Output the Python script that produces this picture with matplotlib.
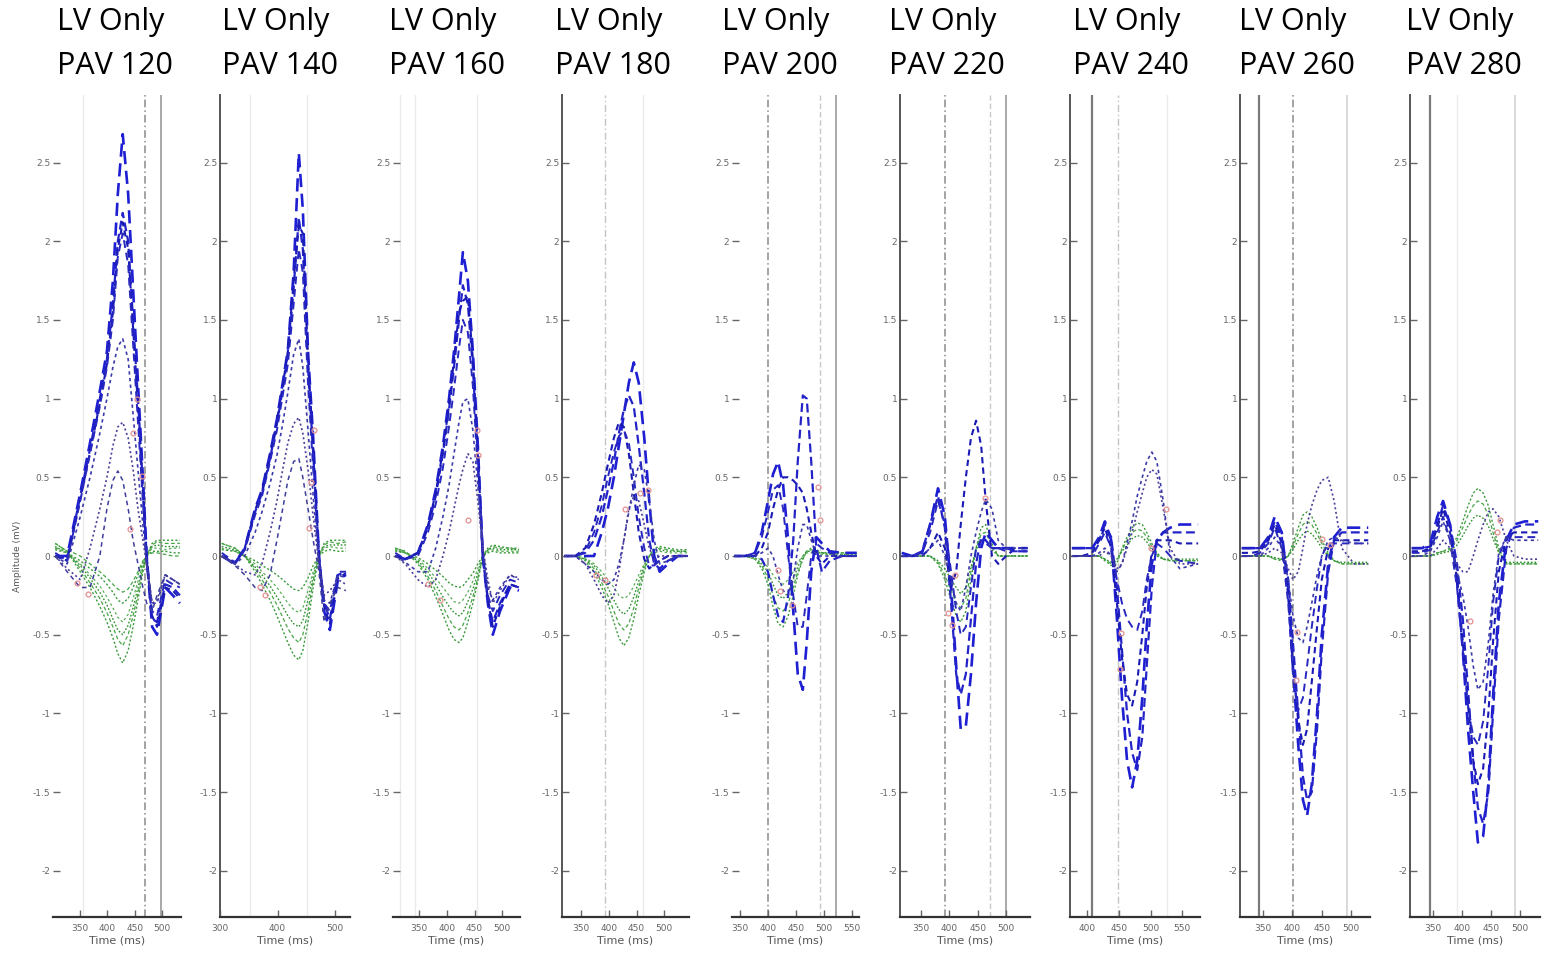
import matplotlib
matplotlib.use("Agg")
import matplotlib.pyplot as plt

W, H = 1546, 956

pav = [120, 140, 160, 180, 200, 220, 240, 260, 280]

# ---- PAV 120 ----
t_120 = [304, 326, 350, 368, 386, 399, 410, 419, 428, 438, 447, 456, 465, 472, 482, 491, 506, 520, 533]
blue_120 = [
    [0.0, 0.0, 0.4, 0.72, 1.05, 1.3, 1.75, 2.3, 2.68, 2.3, 1.7, 1.1, 0.5, 0.0, -0.45, -0.5, -0.2, -0.25, -0.3],
    [0.0, -0.02, 0.38, 0.68, 1.0, 1.25, 1.6, 2.0, 2.18, 2.0, 1.5, 1.0, 0.45, 0.0, -0.4, -0.42, -0.18, -0.2, -0.25],
    [0.0, -0.03, 0.36, 0.66, 0.97, 1.22, 1.55, 1.95, 2.12, 1.95, 1.45, 0.95, 0.4, -0.02, -0.38, -0.45, -0.2, -0.22, -0.27],
    [0.02, -0.03, 0.35, 0.65, 0.95, 1.2, 1.5, 1.9, 2.05, 1.85, 1.35, 0.85, 0.35, -0.05, -0.35, -0.38, -0.15, -0.18, -0.2],
    [0.0, -0.05, 0.25, 0.5, 0.78, 1.0, 1.2, 1.33, 1.38, 1.25, 0.9, 0.55, 0.2, -0.05, -0.3, -0.3, -0.12, -0.15, -0.18],
    [0.0, -0.08, -0.15, 0.05, 0.3, 0.5, 0.7, 0.82, 0.85, 0.75, 0.55, 0.3, 0.1, -0.05, -0.3, -0.28, -0.12, -0.15, -0.18],
    [0.0, -0.1, -0.2, -0.2, 0.0, 0.3, 0.48, 0.54, 0.48, 0.3, 0.1, -0.05, -0.2, -0.3, -0.35, -0.25, -0.12, -0.15, -0.18],
]
green_120 = [
    [0.08, 0.03, -0.1, -0.2, -0.32, -0.42, -0.52, -0.62, -0.68, -0.6, -0.45, -0.28, -0.1, 0.0, 0.08, 0.1, 0.1, 0.1, 0.1],
    [0.08, 0.03, -0.08, -0.17, -0.27, -0.36, -0.45, -0.53, -0.57, -0.5, -0.38, -0.24, -0.08, 0.0, 0.07, 0.09, 0.08, 0.08, 0.08],
    [0.06, 0.02, -0.06, -0.14, -0.23, -0.31, -0.4, -0.47, -0.5, -0.44, -0.33, -0.2, -0.07, 0.0, 0.06, 0.07, 0.06, 0.06, 0.06],
    [0.05, 0.02, -0.05, -0.12, -0.19, -0.26, -0.33, -0.39, -0.42, -0.37, -0.27, -0.16, -0.05, 0.0, 0.05, 0.05, 0.04, 0.05, 0.05],
    [0.04, 0.02, -0.03, -0.08, -0.13, -0.18, -0.23, -0.28, -0.3, -0.27, -0.2, -0.12, -0.04, 0.0, 0.03, 0.03, 0.03, 0.02, 0.02],
    [0.05, 0.04, 0.0, -0.05, -0.1, -0.14, -0.18, -0.21, -0.23, -0.21, -0.16, -0.1, -0.03, 0.0, 0.02, 0.02, 0.01, 0.0, 0.0],
]
mark_t_120 = [454, 447, 463, 441, 344, 364]
mark_a_120 = [1.0, 0.78, 0.51, 0.17, -0.17, -0.24]

# ---- PAV 140 ----
t_140 = [303, 326, 343, 361, 373, 387, 399, 409, 418, 428, 437, 444, 453, 462, 472, 481, 491, 505, 519]
blue_140 = [
    [0.0, -0.05, 0.05, 0.3, 0.42, 0.65, 0.87, 1.1, 1.31, 1.8, 2.56, 2.2, 1.3, 0.75, 0.0, -0.35, -0.47, -0.15, -0.12],
    [0.0, -0.05, 0.04, 0.28, 0.4, 0.62, 0.84, 1.06, 1.28, 1.7, 2.15, 1.95, 1.2, 0.65, 0.0, -0.3, -0.4, -0.12, -0.1],
    [0.0, -0.04, 0.05, 0.29, 0.41, 0.64, 0.86, 1.08, 1.3, 1.75, 2.1, 2.05, 1.25, 0.7, 0.0, -0.32, -0.43, -0.14, -0.11],
    [0.02, -0.04, 0.04, 0.26, 0.38, 0.6, 0.8, 1.02, 1.22, 1.6, 1.95, 1.8, 1.1, 0.55, -0.02, -0.3, -0.35, -0.1, -0.1],
    [0.0, -0.05, 0.0, 0.15, 0.28, 0.46, 0.64, 0.84, 1.04, 1.28, 1.38, 1.2, 0.8, 0.38, -0.05, -0.28, -0.3, -0.12, -0.14],
    [0.0, -0.05, -0.1, -0.12, -0.05, 0.15, 0.35, 0.55, 0.72, 0.84, 0.88, 0.78, 0.55, 0.25, -0.05, -0.25, -0.22, -0.15, -0.18],
    [0.0, -0.06, -0.12, -0.2, -0.22, -0.12, 0.1, 0.3, 0.48, 0.6, 0.62, 0.5, 0.3, 0.1, -0.1, -0.42, -0.3, -0.2, -0.22],
]
green_140 = [
    [0.08, 0.05, 0.0, -0.1, -0.18, -0.28, -0.38, -0.47, -0.55, -0.63, -0.66, -0.6, -0.42, -0.2, 0.0, 0.08, 0.1, 0.1, 0.1],
    [0.08, 0.05, 0.0, -0.08, -0.15, -0.23, -0.31, -0.39, -0.46, -0.52, -0.55, -0.5, -0.35, -0.16, 0.0, 0.07, 0.09, 0.08, 0.09],
    [0.06, 0.04, 0.0, -0.07, -0.12, -0.19, -0.26, -0.32, -0.38, -0.43, -0.45, -0.41, -0.28, -0.13, 0.0, 0.06, 0.07, 0.07, 0.07],
    [0.05, 0.03, 0.0, -0.05, -0.1, -0.15, -0.2, -0.25, -0.3, -0.34, -0.36, -0.33, -0.22, -0.1, 0.0, 0.05, 0.06, 0.05, 0.05],
    [0.04, 0.03, 0.0, -0.03, -0.06, -0.09, -0.12, -0.15, -0.18, -0.21, -0.22, -0.2, -0.14, -0.06, 0.0, 0.03, 0.04, 0.03, 0.03],
]
mark_t_140 = [463, 458, 455, 370, 378]
mark_a_140 = [0.8, 0.47, 0.18, -0.2, -0.25]

# ---- PAV 160 ----
t_160 = [307, 325, 348, 366, 380, 393, 404, 413, 422, 429, 438, 447, 456, 465, 474, 483, 496, 514, 530]
blue_160 = [
    [0.0, -0.02, 0.02, 0.2, 0.42, 0.7, 1.0, 1.3, 1.65, 1.93, 1.75, 1.3, 0.7, 0.0, -0.3, -0.5, -0.35, -0.2, -0.22],
    [0.0, -0.02, 0.02, 0.18, 0.38, 0.65, 0.93, 1.2, 1.5, 1.72, 1.6, 1.2, 0.62, 0.0, -0.28, -0.42, -0.3, -0.18, -0.2],
    [0.0, -0.02, 0.02, 0.19, 0.4, 0.67, 0.96, 1.25, 1.55, 1.62, 1.65, 1.25, 0.66, 0.0, -0.28, -0.45, -0.32, -0.18, -0.2],
    [0.02, -0.02, 0.0, 0.15, 0.33, 0.56, 0.82, 1.06, 1.32, 1.5, 1.42, 1.08, 0.55, -0.02, -0.25, -0.35, -0.25, -0.15, -0.17],
    [0.0, -0.04, -0.1, -0.1, 0.05, 0.25, 0.45, 0.65, 0.85, 0.98, 1.0, 0.8, 0.45, 0.05, -0.2, -0.28, -0.2, -0.12, -0.15],
    [0.0, -0.05, -0.15, -0.2, -0.15, 0.0, 0.15, 0.3, 0.45, 0.55, 0.65, 0.6, 0.35, 0.05, -0.15, -0.3, -0.22, -0.12, -0.14],
]
green_160 = [
    [0.05, 0.03, -0.05, -0.15, -0.26, -0.37, -0.47, -0.53, -0.55, -0.52, -0.42, -0.3, -0.16, 0.0, 0.05, 0.07, 0.06, 0.05, 0.05],
    [0.05, 0.03, -0.04, -0.13, -0.22, -0.32, -0.4, -0.45, -0.47, -0.44, -0.36, -0.26, -0.14, 0.0, 0.04, 0.06, 0.05, 0.05, 0.04],
    [0.04, 0.02, -0.03, -0.1, -0.18, -0.26, -0.32, -0.36, -0.38, -0.36, -0.29, -0.21, -0.11, 0.0, 0.04, 0.05, 0.04, 0.04, 0.04],
    [0.04, 0.02, -0.02, -0.08, -0.14, -0.2, -0.25, -0.29, -0.3, -0.28, -0.23, -0.16, -0.08, 0.0, 0.03, 0.04, 0.03, 0.03, 0.03],
    [0.03, 0.02, -0.01, -0.05, -0.09, -0.13, -0.17, -0.19, -0.2, -0.19, -0.15, -0.11, -0.05, 0.0, 0.02, 0.03, 0.02, 0.02, 0.02],
]
mark_t_160 = [454, 456, 438, 366, 388]
mark_a_160 = [0.8, 0.64, 0.23, -0.18, -0.28]

# ---- PAV 180 ----
t_180 = [319, 339, 357, 373, 387, 398, 409, 418, 427, 436, 445, 454, 464, 473, 482, 492, 507, 525, 543]
blue_180 = [
    [0.0, 0.0, 0.0, 0.0, 0.15, 0.3, 0.5, 0.7, 0.9, 1.1, 1.23, 1.1, 0.75, 0.35, 0.0, -0.1, -0.05, 0.0, 0.0],
    [0.0, 0.0, 0.02, 0.1, 0.25, 0.42, 0.6, 0.78, 0.93, 1.02, 0.95, 0.7, 0.4, 0.1, -0.05, -0.08, -0.03, 0.0, 0.0],
    [0.0, 0.0, 0.05, 0.2, 0.4, 0.58, 0.75, 0.85, 0.82, 0.65, 0.4, 0.15, -0.02, -0.08, -0.05, -0.03, 0.0, 0.0, 0.0],
    [0.0, 0.0, 0.03, 0.15, 0.32, 0.5, 0.66, 0.76, 0.8, 0.72, 0.5, 0.25, 0.05, -0.06, -0.06, -0.03, 0.0, 0.0, 0.0],
    [0.0, 0.0, -0.05, -0.1, -0.15, -0.18, -0.15, -0.05, 0.1, 0.28, 0.45, 0.58, 0.55, 0.35, 0.1, -0.05, -0.03, 0.0, 0.0],
    [0.0, 0.0, -0.05, -0.15, -0.25, -0.3, -0.25, -0.1, 0.1, 0.3, 0.38, 0.35, 0.2, 0.05, -0.02, 0.0, 0.0, 0.0, 0.0],
]
green_180 = [
    [0.0, 0.0, -0.03, -0.1, -0.2, -0.3, -0.42, -0.52, -0.57, -0.52, -0.4, -0.25, -0.1, 0.0, 0.05, 0.06, 0.05, 0.04, 0.04],
    [0.0, 0.0, -0.02, -0.08, -0.17, -0.25, -0.35, -0.43, -0.47, -0.43, -0.33, -0.2, -0.08, 0.0, 0.04, 0.05, 0.04, 0.03, 0.03],
    [0.0, 0.0, -0.02, -0.06, -0.13, -0.2, -0.28, -0.34, -0.37, -0.34, -0.26, -0.16, -0.06, 0.0, 0.03, 0.04, 0.03, 0.03, 0.03],
    [0.0, 0.0, -0.01, -0.05, -0.1, -0.15, -0.2, -0.25, -0.27, -0.25, -0.19, -0.12, -0.05, 0.0, 0.02, 0.03, 0.02, 0.02, 0.02],
]
mark_t_180 = [471, 457, 429, 377, 393]
mark_a_180 = [0.42, 0.4, 0.3, -0.12, -0.15]

# ---- PAV 200 ----
t_200 = [340, 359, 377, 389, 400, 409, 418, 427, 436, 445, 453, 462, 469, 477, 486, 496, 510, 532, 558]
blue_200 = [
    [0.0, 0.0, 0.02, 0.15, 0.35, 0.52, 0.6, 0.45, 0.1, -0.35, -0.75, -0.85, -0.55, -0.1, 0.12, 0.08, 0.03, 0.02, 0.02],
    [0.0, 0.0, 0.0, -0.02, -0.1, -0.25, -0.38, -0.42, -0.25, 0.1, 0.6, 1.02, 1.0, 0.6, 0.05, -0.1, -0.03, 0.0, 0.0],
    [0.0, 0.0, 0.0, 0.05, 0.15, 0.3, 0.42, 0.5, 0.5, 0.48, 0.45, 0.4, 0.3, 0.15, 0.0, -0.05, 0.0, 0.0, 0.0],
    [0.0, 0.0, 0.02, 0.12, 0.28, 0.42, 0.45, 0.3, 0.0, -0.25, -0.45, -0.45, -0.25, 0.0, 0.08, 0.05, 0.02, 0.0, 0.0],
    [0.0, 0.0, 0.0, 0.02, 0.05, 0.0, -0.12, -0.22, -0.25, -0.15, 0.05, 0.2, 0.2, 0.1, 0.0, 0.0, 0.0, 0.0, 0.0],
]
green_200 = [
    [0.0, 0.0, -0.02, -0.08, -0.18, -0.32, -0.43, -0.45, -0.38, -0.25, -0.12, -0.02, 0.03, 0.05, 0.04, 0.02, 0.02, 0.02, 0.02],
    [0.0, 0.0, -0.02, -0.06, -0.14, -0.25, -0.33, -0.35, -0.3, -0.2, -0.1, -0.02, 0.03, 0.04, 0.03, 0.02, 0.02, 0.02, 0.02],
    [0.0, 0.0, -0.01, -0.05, -0.1, -0.18, -0.25, -0.27, -0.23, -0.15, -0.07, 0.0, 0.03, 0.03, 0.02, 0.02, 0.01, 0.01, 0.01],
    [0.0, 0.0, 0.0, -0.03, -0.07, -0.12, -0.16, -0.18, -0.15, -0.1, -0.04, 0.0, 0.02, 0.02, 0.02, 0.01, 0.01, 0.01, 0.01],
]
mark_t_200 = [489, 493, 418, 421, 443]
mark_a_200 = [0.44, 0.23, -0.09, -0.22, -0.31]

# ---- PAV 220 ----
t_220 = [316, 334, 352, 366, 380, 392, 403, 412, 420, 429, 438, 447, 456, 464, 475, 486, 500, 517, 538]
blue_220 = [
    [0.02, 0.0, 0.02, 0.2, 0.43, 0.25, -0.2, -0.7, -1.1, -1.08, -0.75, -0.3, 0.05, 0.15, 0.1, 0.05, 0.05, 0.05, 0.05],
    [0.0, 0.0, 0.03, 0.2, 0.38, 0.18, -0.3, -0.75, -0.88, -0.75, -0.4, -0.05, 0.12, 0.1, 0.05, 0.05, 0.05, 0.03, 0.03],
    [0.0, 0.0, 0.0, 0.05, 0.15, 0.05, -0.2, -0.1, 0.2, 0.5, 0.75, 0.86, 0.7, 0.35, 0.0, -0.05, 0.0, 0.05, 0.05],
    [0.0, 0.0, 0.02, 0.15, 0.35, 0.2, -0.1, -0.35, -0.5, -0.45, -0.2, 0.05, 0.1, 0.08, 0.05, 0.05, 0.03, 0.03, 0.03],
    [0.0, 0.0, 0.0, 0.05, 0.1, 0.0, -0.15, -0.3, -0.35, -0.2, 0.0, 0.15, 0.28, 0.36, 0.3, 0.1, 0.05, 0.05, 0.05],
]
green_220 = [
    [0.0, 0.0, 0.0, 0.0, -0.05, -0.15, -0.28, -0.38, -0.42, -0.35, -0.15, 0.05, 0.18, 0.2, 0.08, 0.0, 0.0, 0.0, 0.0],
    [0.0, 0.0, 0.0, 0.0, -0.04, -0.12, -0.22, -0.3, -0.33, -0.27, -0.1, 0.05, 0.14, 0.15, 0.06, 0.0, 0.0, 0.0, 0.0],
    [0.0, 0.0, 0.0, 0.0, -0.03, -0.08, -0.15, -0.2, -0.24, -0.2, -0.07, 0.04, 0.1, 0.1, 0.04, 0.0, 0.0, 0.0, 0.0],
]
mark_t_220 = [463, 398, 404, 410]
mark_a_220 = [0.37, -0.36, -0.44, -0.12]

# ---- PAV 240 ----
t_240 = [376, 392, 408, 419, 428, 438, 447, 455, 463, 471, 479, 487, 494, 502, 510, 520, 531, 546, 575]
blue_240 = [
    [0.05, 0.05, 0.05, 0.12, 0.22, 0.1, -0.4, -0.9, -1.3, -1.47, -1.3, -0.9, -0.45, -0.05, 0.1, 0.15, 0.18, 0.2, 0.2],
    [0.05, 0.05, 0.05, 0.1, 0.2, 0.12, -0.2, -0.6, -1.0, -1.25, -1.36, -1.15, -0.7, -0.2, 0.1, 0.15, 0.15, 0.15, 0.15],
    [0.0, 0.0, 0.02, 0.1, 0.18, 0.05, -0.3, -0.65, -0.88, -0.95, -0.8, -0.5, -0.2, 0.02, 0.1, 0.1, 0.1, 0.08, 0.08],
    [0.0, 0.0, 0.0, 0.08, 0.15, 0.05, -0.15, -0.3, -0.4, -0.45, -0.47, -0.35, -0.15, 0.0, 0.08, 0.05, 0.0, -0.03, -0.05],
    [0.0, 0.0, 0.0, 0.02, 0.05, 0.0, -0.1, -0.05, 0.08, 0.22, 0.38, 0.5, 0.6, 0.66, 0.6, 0.35, 0.0, -0.08, -0.05],
    [0.0, 0.0, 0.0, 0.0, 0.03, 0.0, -0.08, -0.05, 0.05, 0.15, 0.28, 0.4, 0.5, 0.55, 0.52, 0.3, 0.05, -0.05, -0.05],
]
green_240 = [
    [0.0, 0.0, 0.0, 0.0, -0.03, -0.06, -0.05, 0.05, 0.12, 0.18, 0.21, 0.2, 0.15, 0.08, 0.02, -0.02, -0.03, -0.03, -0.03],
    [0.0, 0.0, 0.0, 0.0, -0.02, -0.05, -0.03, 0.04, 0.1, 0.15, 0.17, 0.16, 0.12, 0.06, 0.01, -0.02, -0.03, -0.03, -0.03],
    [0.0, 0.0, 0.0, 0.0, -0.02, -0.04, -0.02, 0.03, 0.07, 0.11, 0.13, 0.12, 0.09, 0.04, 0.0, -0.02, -0.02, -0.02, -0.02],
]
mark_t_240 = [454, 452, 524, 500]
mark_a_240 = [-0.49, -0.72, 0.3, 0.05]

# ---- PAV 260 ----
t_260 = [314, 331, 345, 359, 370, 382, 393, 401, 410, 418, 425, 433, 442, 450, 461, 471, 484, 505, 529]
blue_260 = [
    [0.05, 0.05, 0.05, 0.12, 0.25, 0.15, -0.2, -0.7, -1.2, -1.55, -1.65, -1.45, -1.0, -0.5, -0.05, 0.12, 0.18, 0.18, 0.18],
    [0.05, 0.05, 0.05, 0.1, 0.22, 0.12, -0.15, -0.55, -1.0, -1.4, -1.55, -1.5, -1.1, -0.6, -0.1, 0.1, 0.15, 0.15, 0.15],
    [0.02, 0.02, 0.03, 0.1, 0.2, 0.08, -0.25, -0.7, -1.05, -1.2, -1.1, -0.8, -0.45, -0.15, 0.05, 0.1, 0.1, 0.1, 0.1],
    [0.0, 0.0, 0.02, 0.08, 0.18, 0.05, -0.3, -0.75, -0.98, -0.9, -0.7, -0.45, -0.2, 0.0, 0.08, 0.08, 0.08, 0.08, 0.08],
    [0.0, 0.0, 0.0, 0.05, 0.12, 0.05, -0.15, -0.38, -0.52, -0.55, -0.45, -0.3, -0.12, 0.0, 0.1, 0.12, 0.1, 0.08, 0.08],
    [0.0, 0.0, 0.0, 0.02, 0.05, 0.02, -0.08, -0.15, -0.1, 0.05, 0.2, 0.32, 0.42, 0.48, 0.5, 0.35, 0.05, -0.05, -0.05],
]
green_260 = [
    [0.0, 0.0, 0.0, 0.0, -0.02, -0.03, 0.0, 0.08, 0.18, 0.26, 0.28, 0.25, 0.18, 0.1, 0.02, -0.03, -0.05, -0.05, -0.05],
    [0.0, 0.0, 0.0, 0.0, -0.02, -0.02, 0.0, 0.06, 0.14, 0.2, 0.22, 0.2, 0.14, 0.08, 0.01, -0.03, -0.05, -0.05, -0.05],
    [0.0, 0.0, 0.0, 0.0, -0.01, -0.02, 0.0, 0.04, 0.1, 0.14, 0.16, 0.14, 0.1, 0.05, 0.0, -0.03, -0.04, -0.04, -0.04],
]
mark_t_260 = [408, 406, 450, 464]
mark_a_260 = [-0.48, -0.79, 0.11, 0.07]

# ---- PAV 280 ----
t_280 = [313, 331, 345, 357, 367, 379, 391, 401, 410, 419, 427, 436, 445, 453, 463, 476, 489, 508, 531]
blue_280 = [
    [0.05, 0.05, 0.08, 0.25, 0.35, 0.2, -0.15, -0.6, -1.1, -1.5, -1.82, -1.78, -1.45, -0.9, -0.3, 0.1, 0.2, 0.22, 0.22],
    [0.05, 0.05, 0.06, 0.2, 0.32, 0.2, -0.05, -0.4, -0.85, -1.3, -1.6, -1.7, -1.5, -1.0, -0.4, 0.05, 0.18, 0.2, 0.2],
    [0.03, 0.03, 0.05, 0.18, 0.3, 0.15, -0.15, -0.55, -0.95, -1.3, -1.45, -1.35, -1.0, -0.55, -0.1, 0.12, 0.15, 0.15, 0.15],
    [0.02, 0.02, 0.04, 0.15, 0.25, 0.1, -0.2, -0.6, -0.95, -1.15, -1.2, -1.05, -0.7, -0.3, 0.0, 0.12, 0.12, 0.12, 0.12],
    [0.0, 0.0, 0.03, 0.12, 0.22, 0.1, -0.1, -0.25, -0.45, -0.7, -0.85, -0.8, -0.55, -0.25, 0.02, 0.12, 0.1, 0.1, 0.1],
    [0.0, 0.0, 0.0, 0.05, 0.1, 0.05, -0.05, -0.1, -0.1, 0.0, 0.1, 0.2, 0.28, 0.3, 0.25, 0.1, 0.0, -0.02, -0.02],
]
green_280 = [
    [0.0, 0.0, 0.0, 0.02, 0.03, 0.05, 0.12, 0.22, 0.32, 0.4, 0.43, 0.4, 0.32, 0.2, 0.05, -0.05, -0.05, -0.05, -0.05],
    [0.0, 0.0, 0.0, 0.02, 0.03, 0.04, 0.1, 0.18, 0.26, 0.32, 0.35, 0.33, 0.26, 0.15, 0.03, -0.05, -0.05, -0.05, -0.05],
    [0.0, 0.0, 0.0, 0.01, 0.02, 0.03, 0.07, 0.13, 0.19, 0.24, 0.26, 0.24, 0.19, 0.11, 0.02, -0.04, -0.04, -0.04, -0.04],
]
mark_t_280 = [413, 460, 465]
mark_a_280 = [-0.41, 0.15, 0.23]

times = [t_120, t_140, t_160, t_180, t_200, t_220, t_240, t_260, t_280]
blues = [blue_120, blue_140, blue_160, blue_180, blue_200, blue_220, blue_240, blue_260, blue_280]
greens = [green_120, green_140, green_160, green_180, green_200, green_220, green_240, green_260, green_280]
marks_t = [mark_t_120, mark_t_140, mark_t_160, mark_t_180, mark_t_200, mark_t_220, mark_t_240, mark_t_260, mark_t_280]
marks_a = [mark_a_120, mark_a_140, mark_a_160, mark_a_180, mark_a_200, mark_a_220, mark_a_240, mark_a_260, mark_a_280]

# x-axis ticks and marker times (ms) for each panel
xticks = [[350, 400, 450, 500], [300, 400, 500], [350, 400, 450, 500], [350, 400, 450, 500],
          [350, 400, 450, 500, 550], [350, 400, 450, 500], [400, 450, 500, 550],
          [350, 400, 450, 500], [350, 400, 450, 500]]
vmarks = [
    [(355, "faint"), (469, "dashdot"), (498, "solid")],
    [(352, "faint"), (451, "faint")],
    [(316, "faint"), (343, "faint"), (454, "faint")],
    [(393, "dashdot_l"), (462, "faint")],
    [(400, "dashdot"), (493, "dash_l"), (521, "solid")],
    [(392, "dashdot"), (472, "dash_l"), (500, "solid")],
    [(408, "dark"), (449, "dashdot_l"), (526, "faint")],
    [(343, "dark"), (401, "dashdot"), (493, "light")],
    [(345, "dark"), (391, "faint"), (491, "light")],
]
yticks = [-2, -1.5, -1, -0.5, 0, 0.5, 1, 1.5, 2, 2.5]
ytick_labels = ["-2", "-1.5", "-1", "-0.5", "0", "0.5", "1", "1.5", "2", "2.5"]

# axes frame in pixels: left, right, xlim, show left spine
frames = [
    (53, 181, (300, 535), False),
    (220, 350, (300, 526), True),
    (393, 520, (303, 532), False),
    (562, 689, (315, 545), True),
    (732, 859, (336, 562), False),
    (900, 1030, (313, 542), True),
    (1070, 1200, (373, 578), True),
    (1240, 1370, (311, 532), True),
    (1410, 1540, (310, 534), True),
]
title_x = [57, 222, 389, 555, 722, 889, 1073, 1239, 1406]
ax_top, ax_bot = 95, 917

vstyle = {
    "faint": dict(color="#ebebeb", ls="-", lw=1.0),
    "light": dict(color="#cfcfcf", ls="-", lw=1.1),
    "solid": dict(color="#a8a8a8", ls="-", lw=1.4),
    "dark": dict(color="#7a7a7a", ls="-", lw=1.6),
    "dashdot": dict(color="#8a8a8a", ls=(0, (5, 2, 1, 2)), lw=1.1),
    "dashdot_l": dict(color="#c4c4c4", ls=(0, (5, 2, 1, 2)), lw=1.0),
    "dash_l": dict(color="#c8c8c8", ls=(0, (4, 2)), lw=1.0),
}
blue_look = [
    dict(color="#1e1ed2", ls=(0, (5, 2.5)), lw=1.9),
    dict(color="#2323c8", ls=(0, (4, 2)), lw=1.6),
    dict(color="#1a1ab4", ls=(0, (3, 2)), lw=1.5),
    dict(color="#2828c0", ls=(0, (4, 2.5)), lw=1.4),
    dict(color="#3a3aa8", ls=(0, (2, 2)), lw=1.2),
    dict(color="#4b3c98", ls=(0, (1.2, 1.6)), lw=1.2),
    dict(color="#3d3d9a", ls=(0, (3, 2.5)), lw=1.1),
]
green_look = [
    dict(color="#3c9a3c", ls=(0, (1.5, 1.5)), lw=1.0),
    dict(color="#48a648", ls=(0, (3, 2)), lw=0.9),
    dict(color="#2f8f2f", ls=(0, (1.2, 1.4)), lw=1.0),
    dict(color="#5aae5a", ls=(0, (2, 2)), lw=0.9),
]

fig = plt.figure(figsize=(W / 100, H / 100), dpi=100)
ylim = (-(ax_bot - 556) / 157.4, (556 - ax_top) / 157.4)

for i in range(9):
    left, right, xl, spine = frames[i]
    ax = fig.add_axes([left / W, (H - ax_bot) / H, (right - left) / W, (ax_bot - ax_top) / H])
    ax.set_xlim(*xl)
    ax.set_ylim(*ylim)

    for tv, kind in vmarks[i]:
        ax.axvline(tv, zorder=1, **vstyle[kind])

    t = times[i]
    for k, g in enumerate(greens[i]):
        ax.plot(t, g, zorder=2, **green_look[k % len(green_look)])
    for k, b in enumerate(blues[i]):
        ax.plot(t, b, zorder=3, **blue_look[k % len(blue_look)])
    ax.plot(marks_t[i], marks_a[i], "o", ms=3.5, mfc="none", mec="#e39090", mew=0.9, zorder=4)

    for s in ["top", "right"]:
        ax.spines[s].set_visible(False)
    ax.spines["bottom"].set_color("#333333")
    ax.spines["bottom"].set_linewidth(1.6)
    if spine:
        ax.spines["left"].set_color("#555555")
        ax.spines["left"].set_linewidth(1.4)
    else:
        ax.spines["left"].set_visible(False)

    ax.set_yticks(yticks)
    ax.set_yticklabels(ytick_labels)
    ax.set_xticks(xticks[i])
    ax.tick_params(direction="in", length=5, width=1.0, color="#666666",
                   labelsize=6.5, labelcolor="#666666")
    ax.tick_params(axis="x", pad=5)
    ax.tick_params(axis="y", pad=2)
    ax.set_xlabel("Time (ms)", fontsize=8, color="#555555", labelpad=2)

    fig.text(title_x[i] / W, 1 - 22 / H, "LV Only", fontsize=22, family="Open Sans",
             ha="left", va="center")
    fig.text(title_x[i] / W, 1 - 66 / H, "PAV %d" % pav[i], fontsize=22, family="Open Sans",
             ha="left", va="center")

fig.text(18 / W, (H - 556) / H, "Amplitude (mV)", rotation=90, fontsize=6.5,
         color="#555555", ha="center", va="center")

fig.savefig("out.png", dpi=100)
